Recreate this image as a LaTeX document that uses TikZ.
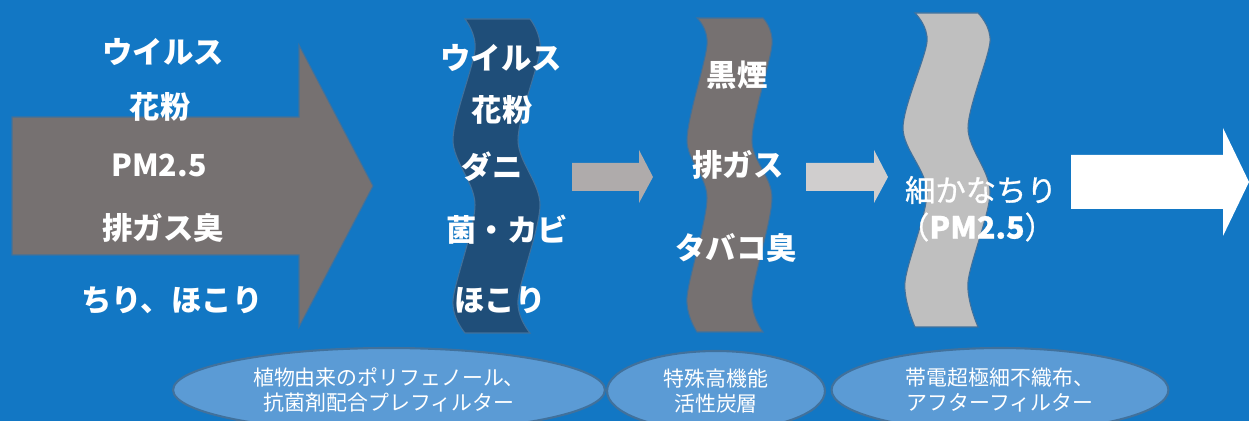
\documentclass[tikz,border=0pt]{standalone}
\usepackage{fontspec}
\setmainfont{Noto Sans CJK JP}
\newfontfamily\medfont[FakeBold=0.8]{Noto Sans CJK JP}
\usepackage{tikz}
\usetikzlibrary{shapes, positioning}
\definecolor{bgblue}{RGB}{18,119,196}
\definecolor{edgeblue}{RGB}{65,113,156}
\definecolor{noteblue}{RGB}{91,155,213}
\definecolor{darkfilter}{RGB}{31,78,121}
\definecolor{grayfilter}{RGB}{118,113,113}
\definecolor{lightfilter}{RGB}{191,191,191}
\definecolor{arrowgray}{RGB}{175,171,171}
\definecolor{arrowlight}{RGB}{208,206,206}

\begin{document}
\begin{tikzpicture}[x=0.02cm, y=-0.02cm,
  big label/.style={text=white, inner sep=0pt,
  font=\fontsize{17.3}{20}\selectfont\bfseries},
  thin label/.style={text=white, inner sep=0pt,
  font=\fontsize{17.3}{20}\selectfont\medfont},
  note/.style={ellipse, draw=edgeblue, line width=1.2pt, fill=noteblue,
  text=white, inner sep=0pt, align=center, minimum height=1.68cm,
  font=\fontsize{11.9}{14.5}\selectfont},
  filter/.style={draw=edgeblue, line width=0.6pt}]
  \useasboundingbox (0,0) rectangle (1249,421);
  \fill[bgblue] (0,0) rectangle (1249,421);

  % incoming air
  \filldraw[filter, fill=grayfilter] (12,117) -- (299,117) -- (299,45) -- (373,186)
    -- (299,327) -- (299,255) -- (12,255) -- cycle;
  \node[big label] (virus) at (163,52) {ウイルス};
  \node[big label] (pollen) at (160,107) {花粉};
  \node[big label] (pm) at (159,165) {PM2.5};
  \node[big label] (gas) at (163,228) {排ガス臭};
  \node[big label] (dust) at (172,300) {ちり、ほこり};

  % filters
  \filldraw[filter, fill=darkfilter, shift={(465,19)}]
    plot[smooth] coordinates {(0,0) (10,31) (-12,121) (10,186) (-12,281) (0,314)}
    -- plot[smooth] coordinates {(65,314) (53,281) (75,186) (53,121) (75,31) (65,0)}
    -- cycle;
  \filldraw[filter, fill=grayfilter, shift={(697,18)}]
    plot[smooth] coordinates {(0,0) (10,27) (-10,122) (10,180) (-10,279) (0,314)}
    -- plot[smooth] coordinates {(66,314) (55,279) (75,180) (55,122) (75,27) (66,0)}
    -- cycle;
  \filldraw[filter, fill=lightfilter, shift={(915,13)}]
    plot[smooth] coordinates {(0,0) (12,29) (-12,115) (12,179) (-10,269) (0,314)}
    -- plot[smooth] coordinates {(63,314) (53,269) (75,179) (53,115) (75,29) (63,0)}
    -- cycle;

  \node[big label] (fvirus) at (501,58) {ウイルス};
  \node[big label] (fpollen) at (502,110) {花粉};
  \node[big label] (mite) at (492,167) {ダニ};
  \node[big label] (mold) at (507,230) {菌・カビ};
  \node[big label] (fdust) at (500,300) {ほこり};

  \node[big label] (soot) at (737,75) {黒煙};
  \node[big label] (exhaust) at (738,165) {排ガス};
  \node[big label] (smoke) at (736,248) {タバコ臭};

  \node[thin label] (fine) at (981,190) {細かなちり};
  \node[thin label] (fpm) at (977,227) {（\bfseries PM2.5\mdseries）};

  % arrows between the stages
  \fill[arrowgray] (572,163) -- (639,163) -- (639,150) -- (653,177)
    -- (639,203) -- (639,191) -- (572,191) -- cycle;
  \fill[arrowlight] (806,163) -- (874,163) -- (874,150) -- (888,177)
    -- (874,203) -- (874,191) -- (806,191) -- cycle;
  \fill[white] (1071,155) -- (1223,155) -- (1223,128) -- (1249,182)
    -- (1223,236) -- (1223,209) -- (1071,209) -- cycle;

  % filter names
  \node[note, minimum width=8.64cm] (prefilter) at (389,390)
    {植物由来のポリフェノール、\\抗菌剤配合プレフィルター};
  \node[note, minimum width=4.36cm, minimum height=1.6cm] (carbon) at (716,391)
    {特殊高機能\\活性炭層};
  \node[note, minimum width=6.74cm] (afterfilter) at (1000,390)
    {帯電超極細不織布、\\アフターフィルター};
\end{tikzpicture}
\end{document}
